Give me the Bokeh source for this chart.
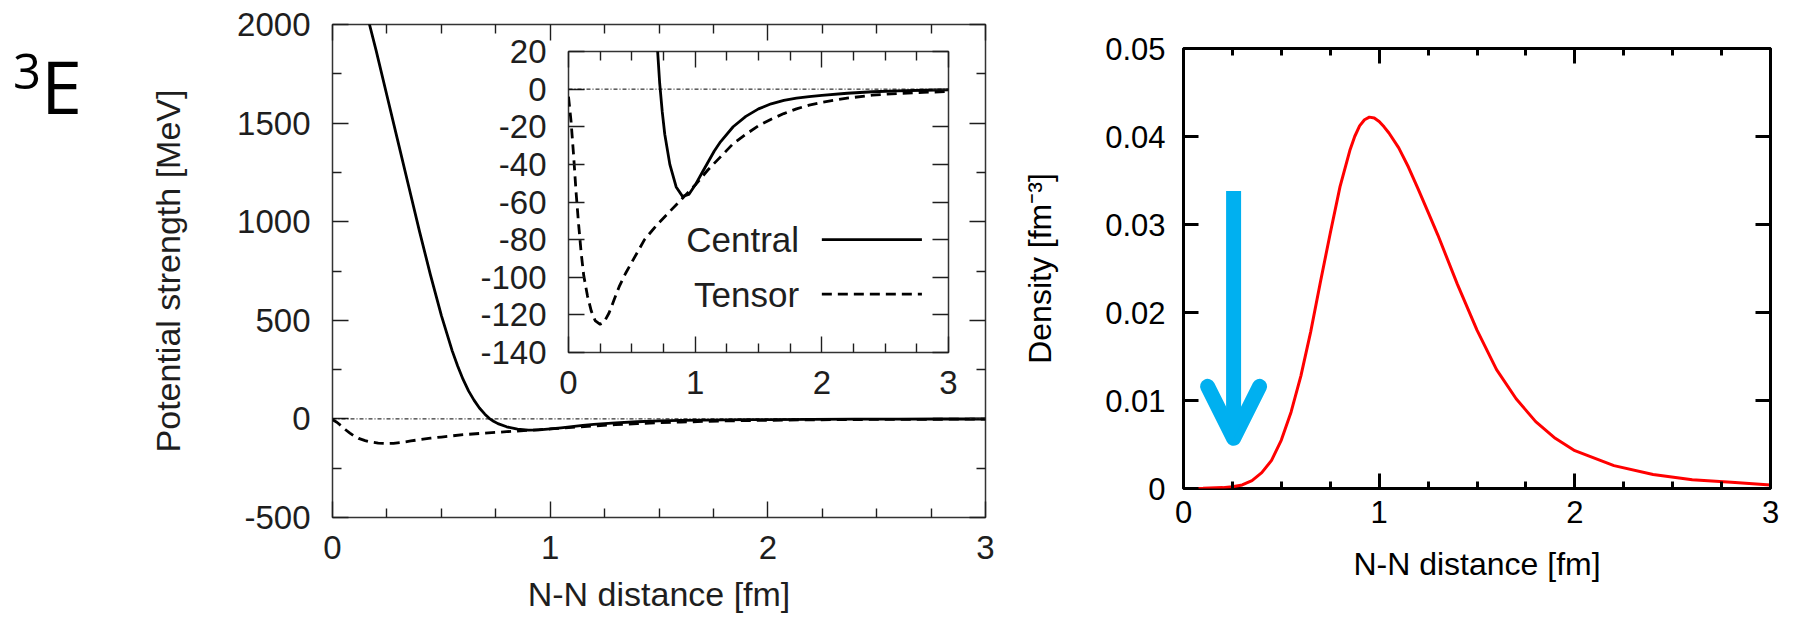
from bokeh.plotting import figure
from bokeh.layouts import column
from bokeh.models import (Range1d, LinearAxis, FixedTicker, Span, Div,
                          Arrow, OpenHead, GridBox, CustomJSTickFormatter)
from bokeh.embed import file_html
from bokeh.resources import INLINE
from bokeh.core.properties import value

# ---------------- data ----------------
central_r = [0.15, 0.17, 0.2, 0.25, 0.3, 0.35, 0.4, 0.45, 0.5, 0.55, 0.575, 0.6, 0.625, 0.65,
             0.675, 0.7, 0.72, 0.74, 0.76, 0.8, 0.85, 0.9, 0.95, 1.0, 1.05, 1.1, 1.15, 1.2,
             1.3, 1.4, 1.5, 1.6, 1.7, 1.8, 1.9, 2.0, 2.2, 2.4, 2.6, 2.8, 3.0]
central_v = [2090, 2000, 1870, 1640, 1410, 1180, 950, 730, 525, 345, 268, 200, 142, 95,
             55, 24, 3, -12, -24, -40, -52, -57, -56, -51, -45, -39, -33, -28,
             -20, -14.5, -10.5, -7.8, -6, -4.8, -4, -3.3, -2.2, -1.4, -0.9, -0.6, -0.4]

tensor_r = [0.0, 0.02, 0.04, 0.06, 0.08, 0.1, 0.12, 0.15, 0.18, 0.21, 0.25, 0.28, 0.32, 0.36,
            0.4, 0.45, 0.5, 0.6, 0.7, 0.8, 0.9, 1.0, 1.1, 1.2, 1.3, 1.4, 1.5, 1.6, 1.7, 1.8,
            1.9, 2.0, 2.2, 2.4, 2.6, 2.8, 3.0]
tensor_v = [-4, -17, -35, -55, -72, -87, -99, -110, -118, -123, -125, -124, -119, -112,
            -105, -98, -92, -80, -72, -65, -58, -51, -43, -36, -29, -24, -19.5, -16, -13, -10.5,
            -8.5, -7, -4.8, -3.2, -2.3, -1.7, -1.3]

density_r = [0.0, 0.1, 0.2, 0.25, 0.3, 0.35, 0.4, 0.45, 0.5, 0.55, 0.6, 0.65, 0.7, 0.75, 0.8,
             0.85, 0.875, 0.9, 0.925, 0.95, 0.975, 1.0, 1.025, 1.05, 1.1, 1.15, 1.2, 1.25,
             1.3, 1.4, 1.5, 1.6, 1.7, 1.8, 1.9, 2.0, 2.2, 2.4, 2.6, 2.8, 3.0]
density_v = [0.0, 0.00002, 0.0001, 0.0002, 0.0004, 0.0009, 0.0018, 0.0032, 0.0055, 0.0087,
             0.0128, 0.0178, 0.0235, 0.0290, 0.0343, 0.0384, 0.0400, 0.0412, 0.0419, 0.0422,
             0.0421, 0.0417, 0.0411, 0.0404, 0.0387, 0.0365, 0.0340, 0.0314, 0.0288, 0.0232,
             0.0180, 0.0135, 0.0102, 0.0076, 0.0057, 0.0043, 0.0026, 0.0016, 0.0010, 0.0007,
             0.0004]

x_ticks = [0, 1, 2, 3]
x_tick_labels = ["0", "1", "2", "3"]
main_y_ticks = [-500, 0, 500, 1000, 1500, 2000]
main_y_tick_labels = ["-500", "0", "500", "1000", "1500", "2000"]
inset_y_ticks = [20, 0, -20, -40, -60, -80, -100, -120, -140]
inset_y_tick_labels = ["20", "0", "-20", "-40", "-60", "-80", "-100", "-120", "-140"]
density_y_ticks = [0, 0.01, 0.02, 0.03, 0.04, 0.05]
density_y_tick_labels = ["0", "0.01", "0.02", "0.03", "0.04", "0.05"]

legend_labels = ["Central", "Tensor"]
legend_y = [-80, -109]
legend_text_x = 1.82
legend_line_x = [2.0, 2.79]

arrow_r = 0.256
arrow_top = 0.0338
arrow_tip = 0.0057

panel_letter = "E"
panel_sup = "3"

# ---------------- styling helpers ----------------
FONT = "Liberation Sans"
LTXT = "#1e1e1e"
LFRAME = "#333333"
LW = 2.8


def style_axis(ax, ticks, labels, minor, major_in, minor_in, color, lw, fsize, standoff, hide=False):
    ax.ticker = FixedTicker(ticks=ticks, minor_ticks=minor)
    ax.major_label_overrides = {t: l for t, l in zip(ticks, labels)}
    ax.axis_line_color = None
    ax.major_tick_in = major_in
    ax.major_tick_out = 0
    ax.minor_tick_in = minor_in
    ax.minor_tick_out = 0
    ax.major_tick_line_color = color
    ax.minor_tick_line_color = color
    ax.major_tick_line_width = lw
    ax.minor_tick_line_width = lw
    ax.major_label_text_font = FONT
    ax.major_label_text_font_size = fsize
    ax.major_label_text_color = color
    ax.major_label_standoff = standoff
    if hide:
        ax.formatter = CustomJSTickFormatter(code="return ''")
        ax.major_label_overrides = {}
        ax.major_label_standoff = 0


def quarter(ticks):
    out = []
    for a, b in zip(ticks[:-1], ticks[1:]):
        step = (b - a) / 4
        out += [a + step * k for k in (1, 2, 3)]
    return out


def half(ticks):
    return [(a + b) / 2 for a, b in zip(ticks[:-1], ticks[1:])]


# ---------------- main (left) plot ----------------
M_L, M_R, M_T, M_B, M_W, M_H = 332, 985, 24, 517, 1000, 626
main = figure(width=M_W, height=M_H, x_range=Range1d(0, 3), y_range=Range1d(-500, 2000),
              output_backend="svg", toolbar_location=None,
              min_border_left=M_L, min_border_right=M_W - M_R,
              min_border_top=M_T, min_border_bottom=M_H - M_B)
main.xgrid.grid_line_color = None
main.ygrid.grid_line_color = None
main.outline_line_color = LFRAME
main.outline_line_width = 1.5
main.background_fill_color = "white"
main.border_fill_color = "white"

main.add_layout(LinearAxis(), "above")
main.add_layout(LinearAxis(), "right")
for ax in main.xaxis:
    style_axis(ax, x_ticks, x_tick_labels, quarter(x_ticks), 16, 9, LTXT, 1.4, "33px", 18,
               ax in main.above)
for ax in main.yaxis:
    style_axis(ax, main_y_ticks, main_y_tick_labels, half(main_y_ticks), 16, 9, LTXT, 1.4,
               "33px", 22, ax in main.right)

main.below[0].axis_label = "N-N distance [fm]"
main.left[0].axis_label = "Potential strength [MeV]"
for ax in (main.below[0], main.left[0]):
    ax.axis_label_text_font = FONT
    ax.axis_label_text_font_size = "34px"
    ax.axis_label_text_font_style = "normal"
    ax.axis_label_text_color = LTXT
main.below[0].axis_label_standoff = 13
main.left[0].axis_label_standoff = 47

main.add_layout(Span(location=0, dimension="width", line_color="black", line_width=1,
                     line_dash="4 2 1 2"))
main.line(central_r, central_v, line_color="black", line_width=LW, line_join="round")
main.line(tensor_r, tensor_v, line_color="black", line_width=LW, line_dash="10 6")

# ---------------- inset ----------------
I_L, I_R, I_T, I_B = 568, 948, 51, 352
inset = figure(width=M_W, height=M_H, x_range=Range1d(0, 3), y_range=Range1d(-140, 20),
               output_backend="svg", toolbar_location=None,
               min_border_left=I_L, min_border_right=M_W - I_R,
               min_border_top=I_T, min_border_bottom=M_H - I_B)
inset.xgrid.grid_line_color = None
inset.ygrid.grid_line_color = None
inset.outline_line_color = LFRAME
inset.outline_line_width = 1.5
inset.background_fill_color = "white"
inset.border_fill_color = None
inset.add_layout(LinearAxis(), "above")
inset.add_layout(LinearAxis(), "right")
for ax in inset.xaxis:
    style_axis(ax, x_ticks, x_tick_labels, quarter(x_ticks), 16, 9, LTXT, 1.4, "33px", 18,
               ax in inset.above)
for ax in inset.yaxis:
    style_axis(ax, inset_y_ticks, inset_y_tick_labels, [], 16, 9, LTXT, 1.4, "33px", 22,
               ax in inset.right)

inset.add_layout(Span(location=0, dimension="width", line_color="black", line_width=1,
                      line_dash="4 2 1 2"))
inset.line(central_r, central_v, line_color="black", line_width=LW, line_join="round")
inset.line(tensor_r, tensor_v, line_color="black", line_width=LW, line_dash="10 6")

inset.text(x=[legend_text_x] * 2, y=legend_y, text=legend_labels, text_align="right",
           text_baseline="middle", text_font=value(FONT), text_font_size="35px",
           text_color=LTXT)
inset.segment(x0=[legend_line_x[0]], y0=[legend_y[0]], x1=[legend_line_x[1]], y1=[legend_y[0]],
              line_color="black", line_width=LW)
inset.segment(x0=[legend_line_x[0]], y0=[legend_y[1]], x1=[legend_line_x[1]], y1=[legend_y[1]],
              line_color="black", line_width=LW, line_dash="10 6")

# ---------------- right plot ----------------
R_L, R_R, R_T, R_B, R_W = 1183, 1770, 48, 488, 1798
right = figure(width=R_W, height=M_H, x_range=Range1d(0, 3), y_range=Range1d(0, 0.05),
               output_backend="svg", toolbar_location=None,
               min_border_left=R_L, min_border_right=R_W - R_R,
               min_border_top=R_T, min_border_bottom=M_H - R_B)
right.xgrid.grid_line_color = None
right.ygrid.grid_line_color = None
right.outline_line_color = "black"
right.outline_line_width = 3
right.background_fill_color = "white"
right.border_fill_color = None
right.add_layout(LinearAxis(), "above")
right.add_layout(LinearAxis(), "right")
for ax in right.xaxis:
    style_axis(ax, x_ticks, x_tick_labels, quarter(x_ticks), 15, 7, "black", 3, "31px", 12,
               ax in right.above)
for ax in right.yaxis:
    style_axis(ax, density_y_ticks, density_y_tick_labels, [], 15, 7, "black", 3, "31px", 18,
               ax in right.right)

right.below[0].axis_label = "N-N distance [fm]"
right.left[0].axis_label = "Density [fm\u207b\u00b3]"
for ax in (right.below[0], right.left[0]):
    ax.axis_label_text_font = FONT
    ax.axis_label_text_font_size = "32px"
    ax.axis_label_text_font_style = "normal"
    ax.axis_label_text_color = "black"
right.below[0].axis_label_standoff = 20
right.left[0].axis_label_standoff = 44

right.line(density_r, density_v, line_color="#ff0000", line_width=3, line_join="round")

BLUE = "#00b0f0"
right.add_layout(Arrow(x_start=arrow_r, y_start=arrow_top, x_end=arrow_r, y_end=arrow_tip,
                       line_color=BLUE, line_width=15,
                       end=OpenHead(size=52, line_color=BLUE, line_width=15,
                                    line_cap="round", line_join="round")))

# ---------------- panel tag "3E" ----------------
tag_html = (
    '<div style="position:relative;width:130px;height:130px;font-family:\'Open Sans\';'
    'color:black;">'
    '<span style="position:absolute;left:8px;top:41px;font-size:49px;line-height:1;">'
    + panel_sup + '</span>'
    '<span style="position:absolute;left:36px;top:44px;font-size:74px;line-height:1;">'
    + panel_letter + '</span></div>'
)
tag = Div(text=tag_html, width=130, height=130)

layout = GridBox(children=[(column(main), 0, 0), (column(inset), 0, 0),
                           (column(right), 0, 0), (tag, 0, 0)])

open("out.html", "w").write(file_html(layout, INLINE))
